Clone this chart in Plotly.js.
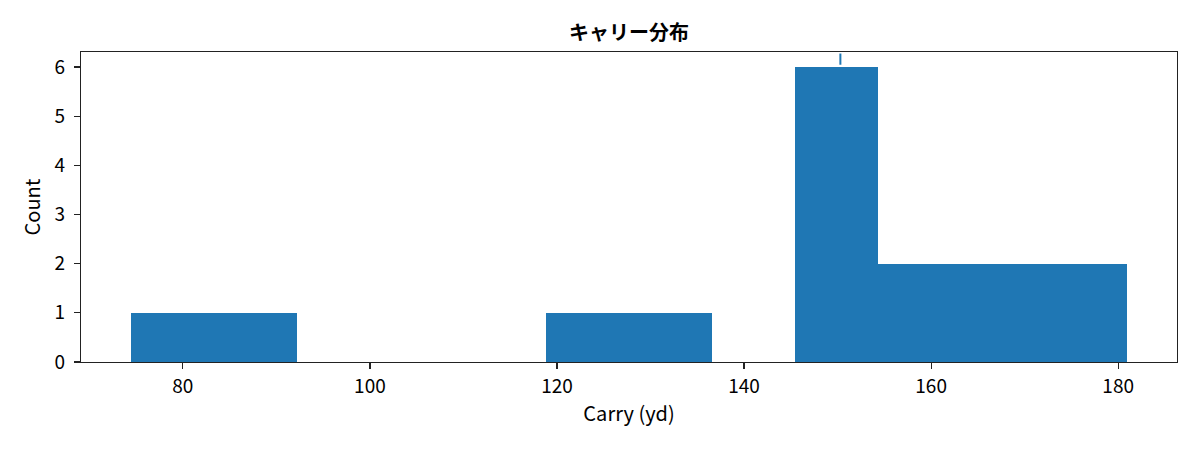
<!DOCTYPE html>
<html>
<head>
<meta charset="utf-8">
<script src="https://cdn.plot.ly/plotly-3.0.1.min.js"></script>
<style>html,body{margin:0;padding:0;background:#fff;}#chart{width:1200px;height:450px;}</style>
</head>
<body>
<div id="chart"></div>
<script>
// Histogram bins (edges) and counts
const binEdges = [74.44, 83.32, 92.19, 101.07, 109.95, 118.82, 127.70, 136.58, 145.45, 154.33, 163.21, 172.08, 180.96];
const counts = [1, 1, 0, 0, 0, 1, 1, 0, 6, 2, 2, 2];
// small marker above the tallest bar
const markX = [150.3];
const markY = [6.16];

const centers = [], widths = [];
for (let i = 0; i < counts.length; i++) {
  centers.push((binEdges[i] + binEdges[i + 1]) / 2);
  widths.push(binEdges[i + 1] - binEdges[i]);
}

const FONT = '"Noto Sans CJK JP", "Noto Sans", sans-serif';

const traces = [
  {
    type: 'bar', x: centers, y: counts, width: widths,
    marker: {color: '#1f77b4', line: {width: 0}},
    hoverinfo: 'x+y'
  },
  {
    type: 'scatter', mode: 'markers', x: markX, y: markY,
    marker: {symbol: 'line-ns', size: 8, line: {color: '#1f77b4', width: 2}},
    hoverinfo: 'skip'
  }
];

const layout = {
  width: 1200, height: 450,
  margin: {l: 81, r: 23, t: 52, b: 88},
  paper_bgcolor: '#fff', plot_bgcolor: '#fff',
  showlegend: false,
  bargap: 0,
  font: {family: FONT, size: 19, color: '#000'},
  title: {text: '<b>キャリー分布</b>', xref: 'paper', x: 0.5, xanchor: 'center', y: 0.927, yanchor: 'middle',
          font: {family: FONT, size: 20, color: '#000'}},
  xaxis: {
    range: [69.11, 186.29], tickvals: [80, 100, 120, 140, 160, 180],
    ticks: 'outside', ticklen: 6, tickwidth: 1.2, tickcolor: '#222',
    showline: true, linecolor: '#222', linewidth: 1.2, mirror: true,
    showgrid: false, zeroline: false, ticklabelstandoff: 1,
    tickfont: {family: FONT, size: 19},
    title: {text: 'Carry (yd)', font: {family: FONT, size: 20}, standoff: 10}
  },
  yaxis: {
    range: [0, 6.305], tickvals: [0, 1, 2, 3, 4, 5, 6],
    ticks: 'outside', ticklen: 6, tickwidth: 1.2, tickcolor: '#222',
    showline: true, linecolor: '#222', linewidth: 1.2, mirror: true,
    showgrid: false, zeroline: false, ticklabelstandoff: 5,
    tickfont: {family: FONT, size: 19},
    title: {text: 'Count', font: {family: FONT, size: 20}, standoff: 8}
  }
};

Plotly.newPlot('chart', traces, layout, {displayModeBar: false, staticPlot: true});
</script>
</body>
</html>
